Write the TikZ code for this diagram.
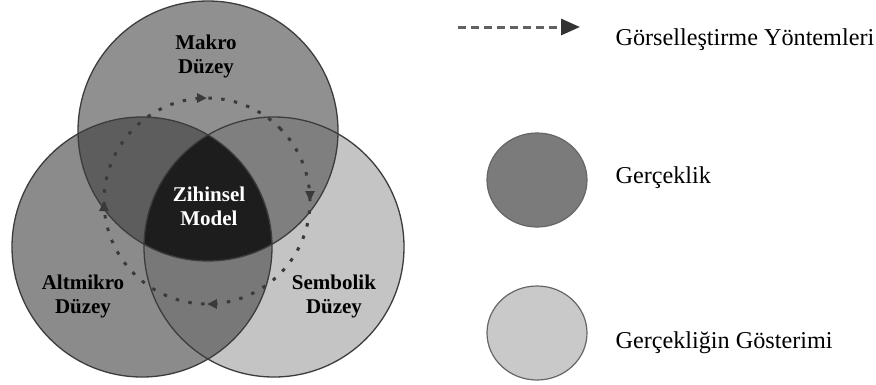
\documentclass[tikz,border=0pt]{standalone}
\usepackage{fontspec}
\setmainfont{Liberation Serif}
\usetikzlibrary{arrows.meta,decorations.markings,calc,shapes.geometric}

% region shades
\definecolor{topgray}{HTML}{909090}
\definecolor{leftgray}{HTML}{8B8B8B}
\definecolor{rightgray}{HTML}{C4C4C4}
\definecolor{tlgray}{HTML}{5D5D5D}
\definecolor{trgray}{HTML}{7F7F7F}
\definecolor{lrgray}{HTML}{787878}
\definecolor{coregray}{HTML}{1D1D1D}
\definecolor{rimgray}{HTML}{3C3C3C}
\definecolor{dotgray}{HTML}{3A3A3A}
\definecolor{keydark}{HTML}{7B7B7B}
\definecolor{keylight}{HTML}{C9C9C9}

\tikzset{
  rim/.style={draw=rimgray, line width=1.3pt},
  lvl/.style={font=\fontsize{21}{24}\selectfont\bfseries, align=center, text=black},
  keytext/.style={font=\fontsize{24.2}{28}\selectfont, anchor=base west, text=black},
  cyclepath/.style={draw=dotgray, line width=3pt,
    dash pattern=on 3.5pt off 9.4pt,
    postaction={decorate},
    decoration={markings,
      mark=at position 0.125 with {\arrow{Triangle[length=10pt,width=9pt,color=dotgray]}},
      mark=at position 0.375 with {\arrow{Triangle[length=10pt,width=9pt,color=dotgray]}},
      mark=at position 0.625 with {\arrow{Triangle[length=10pt,width=9pt,color=dotgray]}},
      mark=at position 0.875 with {\arrow{Triangle[length=10pt,width=9pt,color=dotgray]}}}},
  keyarrow/.style={draw=black!62, line width=3pt, dash pattern=on 8pt off 5pt,
    -{Triangle[length=19pt,width=16pt,color=black!80]}},
  keydisc/.style={draw=black!60, line width=1.2pt, ellipse,
    minimum width=100pt, minimum height=94pt, inner sep=0pt}
}

\begin{document}
\begin{tikzpicture}[x=1pt,y=-1pt]
  \useasboundingbox[fill=white] (0,0) rectangle (876,384);

  % circle centres
  \coordinate (T) at (208,131);
  \coordinate (L) at (142,247);
  \coordinate (R) at (274,247);
  \def\rad{130}

  % single regions
  \fill[topgray] (T) circle[radius=\rad];
  \fill[leftgray] (L) circle[radius=\rad];
  \fill[rightgray] (R) circle[radius=\rad];

  % pairwise overlaps
  \begin{scope}
    \clip (T) circle[radius=\rad];
    \fill[tlgray] (L) circle[radius=\rad];
  \end{scope}
  \begin{scope}
    \clip (T) circle[radius=\rad];
    \fill[trgray] (R) circle[radius=\rad];
  \end{scope}
  \begin{scope}
    \clip (L) circle[radius=\rad];
    \fill[lrgray] (R) circle[radius=\rad];
  \end{scope}

  % common core
  \begin{scope}
    \clip (T) circle[radius=\rad];
    \clip (L) circle[radius=\rad];
    \fill[coregray] (R) circle[radius=\rad];
  \end{scope}

  % outlines
  \draw[rim] (T) circle[radius=\rad];
  \draw[rim] (L) circle[radius=\rad];
  \draw[rim] (R) circle[radius=\rad];

  % dotted visualisation cycle
  \coordinate (C) at (207,201);
  \draw[cyclepath] ($(C)+(-45:103)$) arc[start angle=-45, end angle=315, radius=103];

  % level labels
  \node[lvl] (makro) at (206,56) {Makro\\Düzey};
  \node[lvl, text=white] (zihin) at (209,206) {Zihinsel\\Model};
  \node[lvl] (altmikro) at (83,296) {Altmikro\\Düzey};
  \node[lvl] (sembolik) at (334,296) {Sembolik\\Düzey};

  % key
  \coordinate (ka) at (458,27);
  \coordinate (kb) at (580,27);
  \draw[keyarrow] (ka) -- (kb);
  \node[keytext] (k1) at (612,45) {Görselleştirme Yöntemleri};

  \node[keydisc, fill=keydark] (d1) at (537,180) {};
  \node[keytext] (k2) at (612,183) {Gerçeklik};

  \node[keydisc, fill=keylight] (d2) at (537,333) {};
  \node[keytext] (k3) at (612,348) {Gerçekliğin Gösterimi};
\end{tikzpicture}
\end{document}
